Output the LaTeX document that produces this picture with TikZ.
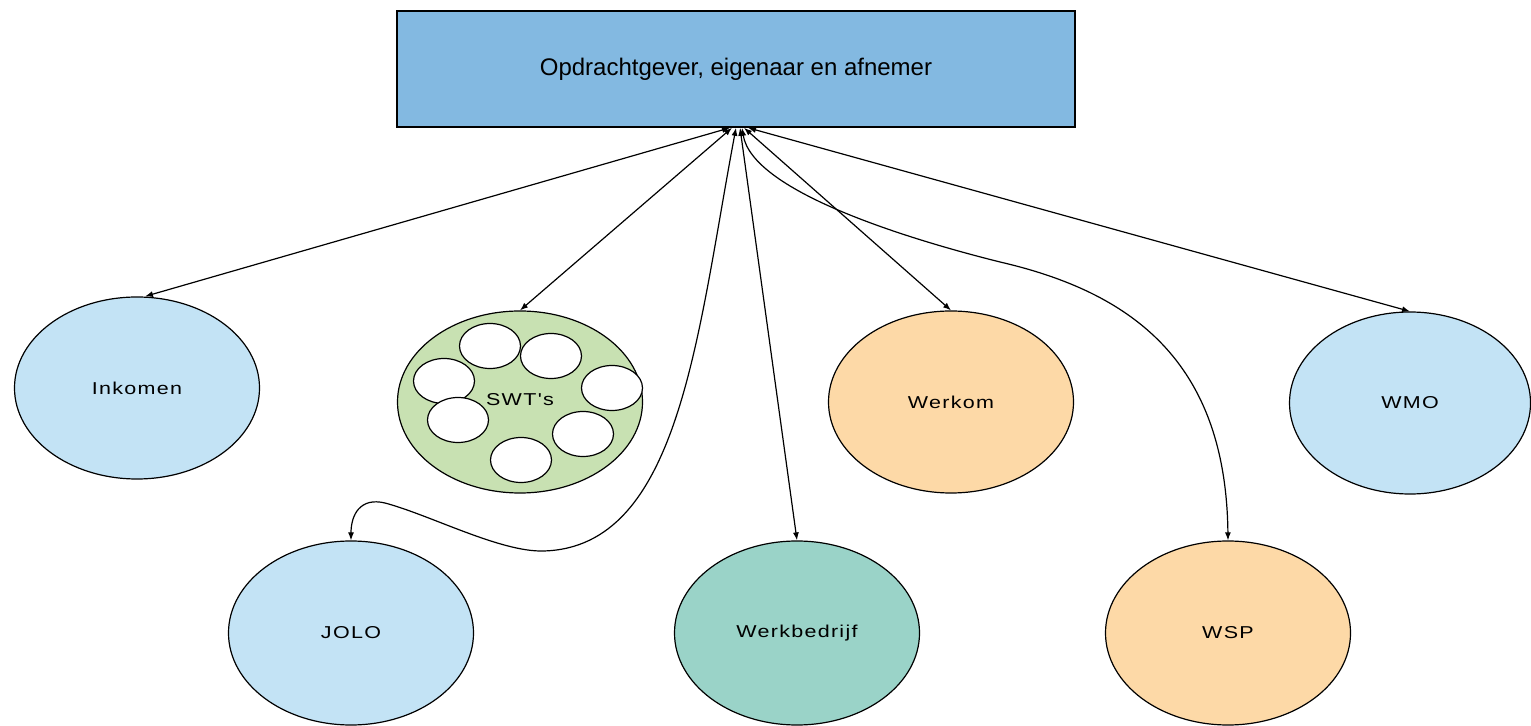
\documentclass[tikz,border=0pt]{standalone}
\usepackage{fontspec}
\usepackage{graphicx}
\setmainfont{Liberation Sans}
\newfontfamily\lblfont[LetterSpace=6]{Liberation Sans}
\newcommand\ovallabel[1]{\scalebox{1.25}[1]{#1}}
\usetikzlibrary{shapes.geometric,arrows.meta,calc}
\definecolor{topblue}{HTML}{83B9E1}
\definecolor{lightblue}{HTML}{C3E3F5}
\definecolor{lightgreen}{HTML}{C8E1B2}
\definecolor{lightorange}{HTML}{FDD9A7}
\definecolor{teal}{HTML}{9AD3C8}
\begin{document}
\begin{tikzpicture}[x=0.5pt,y=-0.5pt,
  box/.style={draw=black,line width=0.8pt,fill=topblue,minimum width=339pt,minimum height=58pt,inner sep=0pt,font=\fontsize{12}{14}\selectfont},
  oval/.style={ellipse,draw=black,line width=0.6pt,minimum width=122.5pt,minimum height=91pt,inner sep=0pt,font=\lblfont\fontsize{8.6}{10}\selectfont},
  lowoval/.style={oval,minimum height=92pt},
  sub/.style={ellipse,draw=black,line width=0.6pt,fill=white,minimum width=30.5pt,minimum height=22.5pt,inner sep=0pt},
  link/.style={draw=black,line width=0.6pt,{Latex[length=4pt,width=3pt]}-{Latex[length=4pt,width=3pt]}}
]
\useasboundingbox (0,0) rectangle (1531,726);

\node[box] (top) at (736,69) {Opdrachtgever, eigenaar en afnemer};

\node[oval,fill=lightblue] (ink) at (137,388) {\ovallabel{Inkomen}};
\node[oval,fill=lightgreen] (swt) at (520,402) {};
\node[sub] (s1) at (490,346) {};
\node[sub] (s2) at (551,356) {};
\node[sub] (s3) at (444,381) {};
\node[sub] (s4) at (612,388) {};
\node[sub] (s5) at (458,420) {};
\node[sub] (s6) at (583,434) {};
\node[sub] (s7) at (521,460) {};
\node[font=\lblfont\fontsize{8.6}{10}\selectfont] (swtlabel) at (520,400) {\ovallabel{SWT's}};
\node[oval,fill=lightorange] (wkm) at (951,402) {\ovallabel{Werkom}};
\node[oval,fill=lightblue,minimum width=120.5pt] (wmo) at (1410,403) {\ovallabel{WMO}};

\node[lowoval,fill=lightblue] (jolo) at (351,633) {\ovallabel{JOLO}};
\node[lowoval,fill=teal] (wbd) at (797,633) {\ovallabel{Werkbedrijf}};
\node[lowoval,fill=lightorange] (wsp) at (1228,633) {\ovallabel{WSP}};

\draw[link] ($(top.south)+(-6,0)$) -- ($(ink.north)+(8,0)$);
\draw[link] ($(top.south)+(-4,0)$) -- (swt.north);
\draw[link] (top.south) .. controls (697,335) and (680,548) .. (543,551)
  .. controls (500,552) and (430,515) .. (385,503)
  .. controls (360,497) and (351,515) .. (jolo.north);
\draw[link] ($(top.south)+(4,0)$) -- (wbd.north);
\draw[link] ($(top.south)+(6,0)$) .. controls (752,190) and (900,237) .. (1000,262)
  .. controls (1130,292) and (1226,360) .. (wsp.north);
\draw[link] ($(top.south)+(8,0)$) -- (wkm.north);
\draw[link] ($(top.south)+(12,0)$) -- (wmo.north);
\end{tikzpicture}
\end{document}
